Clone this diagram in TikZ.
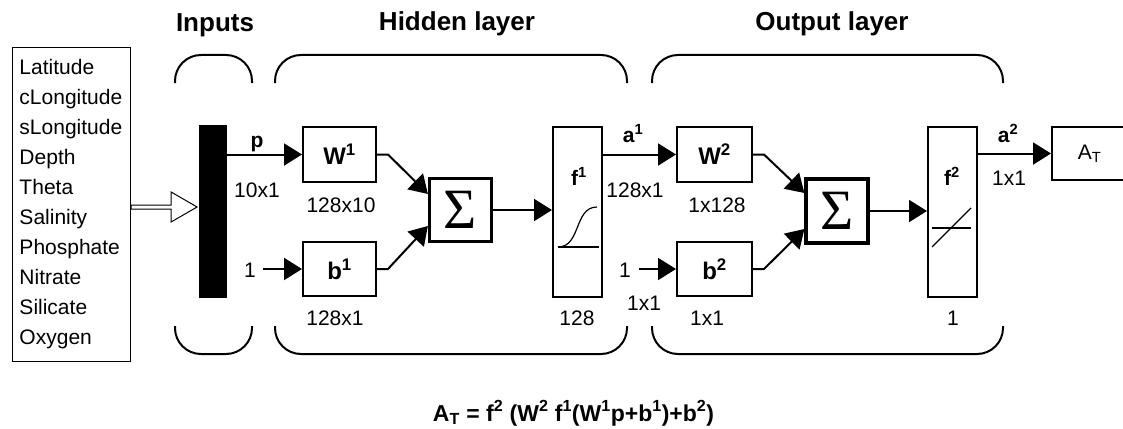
\documentclass[tikz,border=0pt]{standalone}
\usepackage{fontspec}
\setmainfont{Liberation Sans}
\newfontfamily\sigmafont{Liberation Serif}
\usetikzlibrary{arrows.meta,calc}

\tikzset{
  blk/.style={draw, line width=2pt, inner sep=0pt},
  sumblk/.style={draw, line width=3.2pt, inner sep=0pt, minimum width=62pt, minimum height=63pt, font=\sigmafont\fontsize{57}{57}\selectfont},
  dimtxt/.style={anchor=base, inner sep=0pt, font=\fontsize{21}{25}\selectfont},
  symtxt/.style={font=\bfseries\fontsize{24}{28}\selectfont},
  vartxt/.style={anchor=base, inner sep=0pt, font=\bfseries\fontsize{21}{25}\selectfont},
  ttl/.style={anchor=base, inner sep=0pt, font=\bfseries\fontsize{26}{30}\selectfont},
  conn/.style={line width=2pt},
  arr/.style={conn, -{Triangle[length=18pt,width=22pt]}},
}

\begin{document}
\begin{tikzpicture}[x=1pt, y=-1pt]
\useasboundingbox (0,0) rectangle (1123,428);

% _____ Titles and brackets
\node[ttl] (tin)  at (215,32) {Inputs};
\node[ttl] (thid) at (457,31) {Hidden layer};
\node[ttl] (tout) at (832,31) {Output layer};

\def\BrTop{55}
\def\BrBot{354}
\def\BrLeg{28}
\foreach \xa/\xb in {175/252, 275/627, 652/1003} {
  \draw[conn, rounded corners=26pt] (\xa,\BrTop+\BrLeg) -- (\xa,\BrTop) -- (\xb,\BrTop) -- (\xb,\BrTop+\BrLeg);
  \draw[conn, rounded corners=26pt] (\xa,\BrBot-\BrLeg) -- (\xa,\BrBot) -- (\xb,\BrBot) -- (\xb,\BrBot-\BrLeg);
}

% _____ Inputs
\node[draw, line width=1.2pt, minimum width=118pt, minimum height=314pt, text width=104pt,
      inner xsep=7pt, inner ysep=0pt, align=left, font=\fontsize{21}{30}\selectfont]
      (inbox) at (71.5,204.5)
      {Latitude\\cLongitude\\sLongitude\\Depth\\Theta\\Salinity\\Phosphate\\Nitrate\\Silicate\\Oxygen};

\node[fill=black, inner sep=0pt, minimum width=28pt, minimum height=173pt] (bar) at (213,211.5) {};

\draw[line width=1pt, fill=white] ([yshift=-0.5pt]inbox.east) -- ++(40,0) -- ++(0,-13) -- ++(26,15)
    -- ++(-26,15) -- ++(0,-13) -- ++(-40,0) -- cycle;

% _____ Hidden layer
\node[blk, symtxt, minimum width=73pt, minimum height=55pt] (W1) at (339.5,154.5) {W\textsuperscript{1}};
\node[blk, symtxt, minimum width=73pt, minimum height=54pt] (b1) at (339.5,269) {b\textsuperscript{1}};
\node[sumblk] (sig1) at (460.5,210) {Σ};
\node[blk, minimum width=49pt, minimum height=170pt] (f1) at (577.5,212) {};
\node[vartxt] (f1lab) at (579,185) {f\textsuperscript{1}};
\draw[line width=1.2pt] (558,247) -- (599,247);
\draw[line width=1.2pt] (558,247) .. controls (581,247) and (574,207) .. (597,207);

\node[vartxt]  (p)     at (257,147) {p};
\node[dimtxt]  (pdim)  at (257,197) {10x1};
\node[dimtxt]  (one1)  at (250,277) {1};
\node[dimtxt]  (W1dim) at (341,212) {128x10};
\node[dimtxt]  (b1dim) at (335,325) {128x1};
\node[dimtxt]  (f1dim) at (577,325) {128};

% _____ Output layer
\node[blk, symtxt, minimum width=75pt, minimum height=55pt] (W2) at (714.5,154.5) {W\textsuperscript{2}};
\node[blk, symtxt, minimum width=75pt, minimum height=54pt] (b2) at (714.5,269) {b\textsuperscript{2}};
\node[sumblk, minimum height=64pt] (sig2) at (837,211) {Σ};
\node[blk, minimum width=49pt, minimum height=170pt] (f2) at (952.5,212) {};
\node[vartxt] (f2lab) at (952,185) {f\textsuperscript{2}};
\draw[line width=1.2pt] (932,228) -- (971,228);
\draw[line width=1.2pt] (932,247) -- (971,208);

\node[vartxt]  (a1)    at (633,142) {a\textsuperscript{1}};
\node[dimtxt]  (a1dim) at (635,197) {128x1};
\node[dimtxt]  (one2)  at (625,277) {1};
\node[dimtxt]  (onedim) at (644,310) {1x1};
\node[dimtxt]  (W2dim) at (717,212) {1x128};
\node[dimtxt]  (b2dim) at (707,325) {1x1};
\node[dimtxt]  (f2dim) at (953,325) {1};

\node[vartxt]  (a2)    at (1008,142) {a\textsuperscript{2}};
\node[dimtxt]  (a2dim) at (1009,185) {1x1};
\node[draw, line width=2pt, minimum width=82pt, minimum height=53pt, font=\fontsize{21}{25}\selectfont]
      (AT) at (1093,153.5) {A\textsubscript{T}\hspace*{7pt}};

% _____ Connectors
\draw[arr] (bar.east |- W1.west) -- (W1.west);
\draw[arr] ($(one1.east |- b1.west)+(7,0)$) -- (b1.west);
\draw[arr] (W1.east) -- ++(11,0) -- ([yshift=16pt]sig1.west);
\draw[arr] (b1.east) -- ++(11,0) -- ([yshift=-16pt]sig1.west);
\draw[arr] (sig1.east) -- (f1.west |- sig1.east);
\draw[arr] (f1.east |- W2.west) -- (W2.west);
\draw[arr] ($(one2.east |- b2.west)+(8,0)$) -- (b2.west);
\draw[arr] (W2.east) -- ++(11,0) -- ([yshift=18pt]sig2.west);
\draw[arr] (b2.east) -- ++(11,0) -- ([yshift=-18pt]sig2.west);
\draw[arr] (sig2.east) -- (f2.west |- sig2.east);
\draw[arr] (f2.east |- AT.west) -- (AT.west);

% _____ Equation
\node[anchor=base, inner sep=0pt, font=\bfseries\fontsize{23}{27}\selectfont] (eqn) at (573.5,421)
  {A\textsubscript{T} = f\textsuperscript{2} (W\textsuperscript{2} f\textsuperscript{1}(W\textsuperscript{1}p+b\textsuperscript{1})+b\textsuperscript{2})};

\end{tikzpicture}
\end{document}
